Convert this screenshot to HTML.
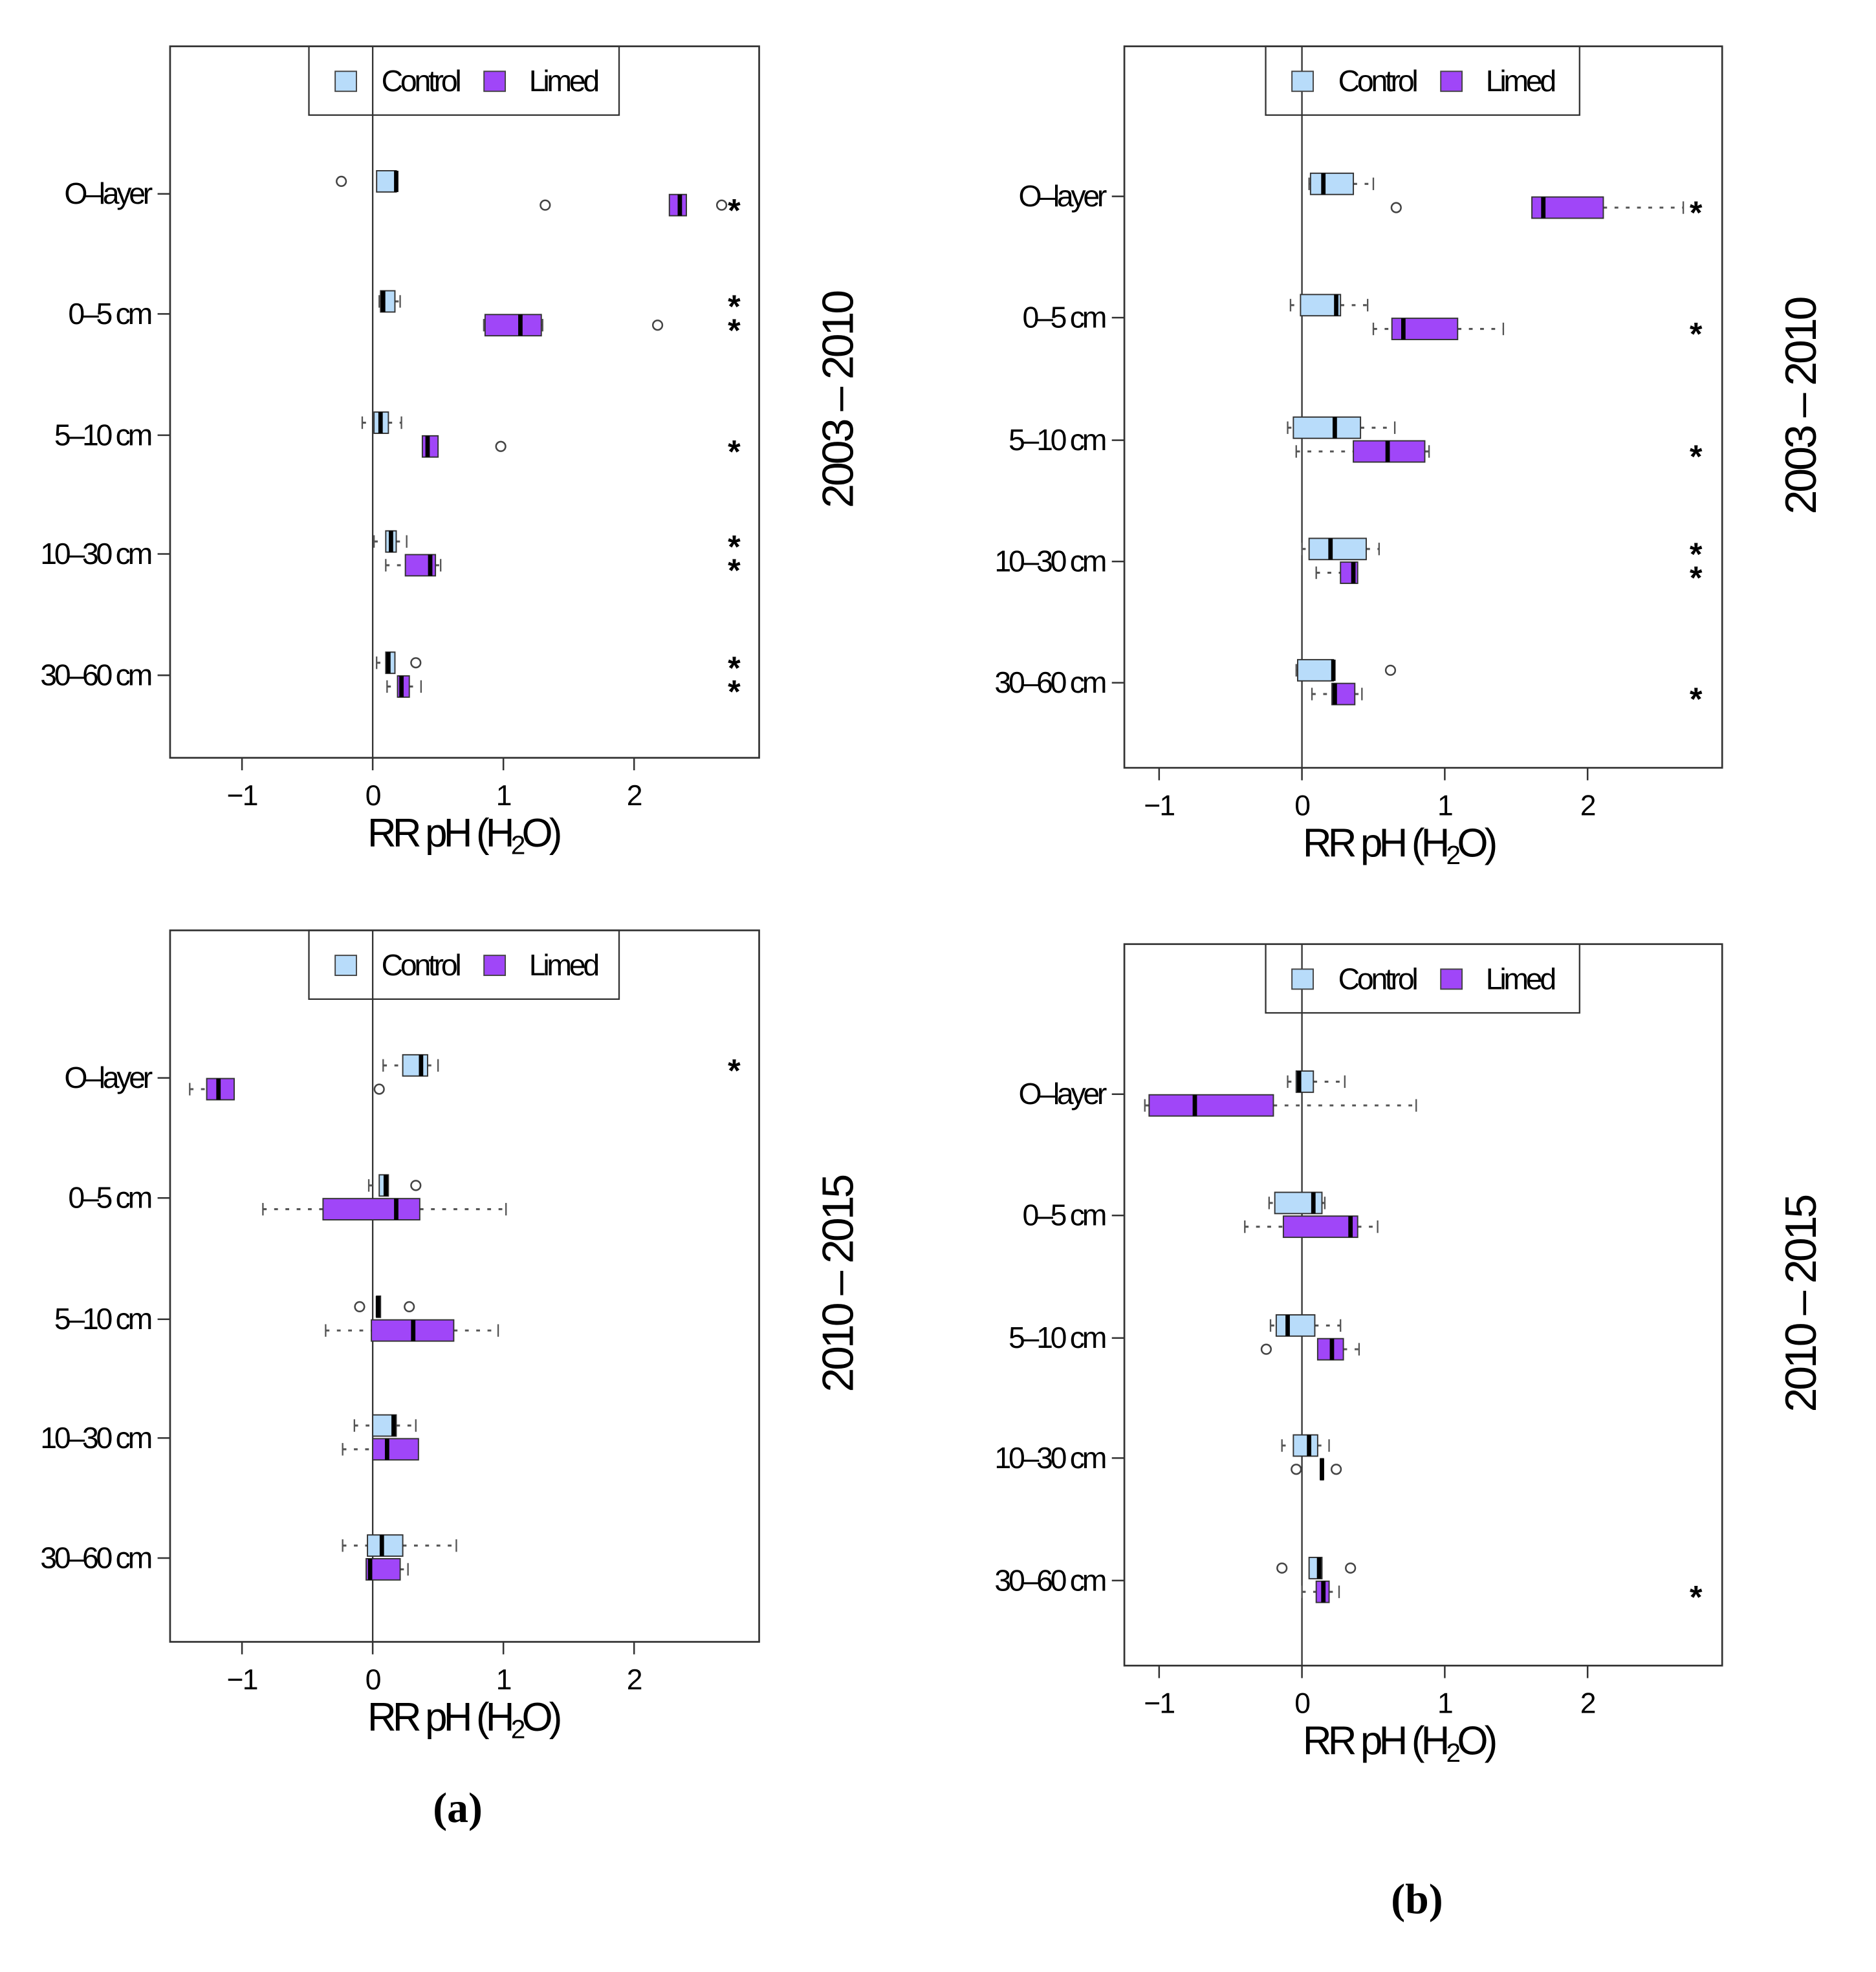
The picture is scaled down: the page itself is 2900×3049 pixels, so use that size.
<!DOCTYPE html>
<html><head><meta charset="utf-8"><style>
html,body{margin:0;padding:0;background:#fff}
svg{display:block}
text{fill:#000}
</style></head><body>
<svg id="fig" width="2900" height="3049" viewBox="0 0 1500 1577" xmlns="http://www.w3.org/2000/svg" style="font-family:'Liberation Sans',sans-serif">
<text x="366" y="1457" style="font-family:'Liberation Serif',serif;font-weight:bold" font-size="34" text-anchor="middle">(a)</text>
<text x="1133" y="1530" style="font-family:'Liberation Serif',serif;font-weight:bold" font-size="34" text-anchor="middle">(b)</text>
</svg>
<script>
const categories = ["O\u2013layer","0\u20135 cm","5\u201310 cm","10\u201330 cm","30\u201360 cm"];
const xTicks = [-1, 0, 1, 2];
// each box: [whiskerLow, q1, median, q3, whiskerHigh]
const aTopControl = [[0.03,0.03,0.18,0.18,0.18],[0.05,0.06,0.08,0.17,0.21],[-0.08,0.01,0.06,0.12,0.22],[0.01,0.10,0.14,0.18,0.26],[0.03,0.10,0.12,0.17,0.17]];
const aTopLimed = [[2.27,2.27,2.35,2.40,2.40],[0.85,0.86,1.13,1.29,1.30],[0.38,0.38,0.42,0.50,0.50],[0.10,0.25,0.44,0.48,0.52],[0.11,0.19,0.22,0.28,0.37]];
const aTopControlOut = [[-0.24],[],[],[],[0.33]];
const aTopLimedOut = [[1.32,2.67],[2.18],[0.98],[],[]];
const aTopStarsControl = [0,1,0,1,1];
const aTopStarsLimed = [1,1,1,1,1];

const aBotControl = [[0.08,0.23,0.37,0.42,0.50],[-0.03,0.05,0.10,0.12,0.12],[0.03,0.03,0.04,0.06,0.06],[-0.14,0.00,0.16,0.18,0.33],[-0.23,-0.04,0.07,0.23,0.64]];
const aBotLimed = [[-1.40,-1.27,-1.18,-1.06,-1.06],[-0.84,-0.38,0.18,0.36,1.02],[-0.36,-0.01,0.31,0.62,0.96],[-0.23,0.00,0.11,0.35,0.35],[-0.05,-0.05,-0.02,0.21,0.27]];
const aBotControlOut = [[],[0.33],[-0.10,0.28],[],[]];
const aBotLimedOut = [[0.05],[],[],[],[]];
const aBotStarsControl = [1,0,0,0,0];
const aBotStarsLimed = [0,0,0,0,0];

const bTopControl = [[0.05,0.06,0.15,0.36,0.50],[-0.08,-0.01,0.24,0.27,0.46],[-0.10,-0.06,0.23,0.41,0.65],[0.00,0.05,0.20,0.45,0.54],[-0.04,-0.03,0.22,0.22,0.22]];
const bTopLimed = [[1.61,1.61,1.69,2.11,2.67],[0.50,0.63,0.71,1.09,1.41],[-0.04,0.36,0.60,0.86,0.89],[0.10,0.27,0.36,0.39,0.39],[0.07,0.21,0.23,0.37,0.42]];
const bTopControlOut = [[],[],[],[],[0.62]];
const bTopLimedOut = [[0.66],[],[],[],[]];
const bTopStarsControl = [0,0,0,1,0];
const bTopStarsLimed = [1,1,1,1,1];

const bBotControl = [[-0.10,-0.04,-0.02,0.08,0.30],[-0.23,-0.19,0.08,0.14,0.16],[-0.22,-0.18,-0.10,0.09,0.27],[-0.14,-0.06,0.05,0.11,0.19],[0.05,0.05,0.12,0.14,0.14]];
const bBotLimed = [[-1.10,-1.07,-0.75,-0.20,0.80],[-0.40,-0.13,0.34,0.39,0.53],[0.11,0.11,0.21,0.29,0.40],[0.13,0.13,0.14,0.15,0.15],[0.00,0.10,0.15,0.19,0.26]];
const bBotControlOut = [[],[],[],[],[-0.14,0.34]];
const bBotLimedOut = [[],[],[-0.25],[-0.04,0.24],[]];
const bBotStarsControl = [0,0,0,0,0];
const bBotStarsLimed = [0,0,0,0,1];

const panelTitles = ["2003 \u2013 2010","2010 \u2013 2015"];

const NS="http://www.w3.org/2000/svg";
const svg=document.getElementById('fig');
function mk(tag,attrs,parent){const e=document.createElementNS(NS,tag);for(const k in attrs)e.setAttribute(k,attrs[k]);(parent||svg).appendChild(e);return e;}

const panels=[
 {id:'a-top',L:136,R:607,T:37,B:606,x0:298,ux:104.5,cy:[155,251,348,443,540],leg:[247,495],title:0,tx:670,ty:320,starX:587,c:aTopControl,l:aTopLimed,co:aTopControlOut,lo:aTopLimedOut,sc:aTopStarsControl,sl:aTopStarsLimed},
 {id:'a-bottom',L:136,R:607,T:744,B:1313,x0:298,ux:104.5,cy:[862,958,1055,1150,1246],leg:[247,495],title:1,tx:670,ty:1027,starX:587,c:aBotControl,l:aBotLimed,co:aBotControlOut,lo:aBotLimedOut,sc:aBotStarsControl,sl:aBotStarsLimed},
 {id:'b-top',L:899,R:1377,T:37,B:614,x0:1041,ux:114.2,cy:[157,254,352,449,546],leg:[1012,1263],title:0,tx:1440,ty:325,starX:1356,c:bTopControl,l:bTopLimed,co:bTopControlOut,lo:bTopLimedOut,sc:bTopStarsControl,sl:bTopStarsLimed},
 {id:'b-bottom',L:899,R:1377,T:755,B:1332,x0:1041,ux:114.2,cy:[875,972,1070,1166,1264],leg:[1012,1263],title:1,tx:1440,ty:1043,starX:1356,c:bBotControl,l:bBotLimed,co:bBotControlOut,lo:bBotLimedOut,sc:bBotStarsControl,sl:bBotStarsLimed}
];

panels.forEach(p=>{
 const g=mk('g',{});
 
 
 const X=v=>p.x0+v*p.ux;
 const frame=mk('rect',{x:p.L,y:p.T,width:p.R-p.L,height:p.B-p.T,fill:'none',stroke:'#333','stroke-width':1.4},g);
 
 
 const zl=mk('line',{x1:X(0),x2:X(0),y1:p.T,y2:p.B,stroke:'#333','stroke-width':1.2},g);
 
 
 xTicks.forEach(t=>{
  mk('line',{x1:X(t),x2:X(t),y1:p.B,y2:p.B+10,stroke:'#333','stroke-width':1.3},g);
  const tl=mk('text',{x:X(t),y:p.B+38,'font-size':23,'text-anchor':'middle','letter-spacing':-1},g);
  tl.textContent=t<0?'\u2212'+Math.abs(t):String(t);
  
  
 });
 const xt=mk('text',{x:(X(-1)+X(2))/2+20,y:p.B+71,'font-size':32,'text-anchor':'middle','letter-spacing':-3},g);
 xt.innerHTML='RR pH (H<tspan font-size="21" dy="6">2</tspan><tspan dy="-6">O)</tspan>';
 
 
 categories.forEach((c,i)=>{
  mk('line',{x1:p.L-10,x2:p.L,y1:p.cy[i],y2:p.cy[i],stroke:'#333','stroke-width':1.3},g);
  const yl=mk('text',{x:p.L-16,y:p.cy[i]+8,'font-size':24,'text-anchor':'end','letter-spacing':-2.2},g);
  yl.textContent=c;
  
  
 });
 const tt=mk('text',{x:0,y:0,'font-size':35,'text-anchor':'middle','letter-spacing':-2,transform:`translate(${p.tx+12},${p.ty}) rotate(-90)`},g);
 tt.textContent=panelTitles[p.title];
 
 
 const lg=mk('g',{},g);
 
 
 mk('rect',{x:p.leg[0],y:p.T,width:p.leg[1]-p.leg[0],height:55,fill:'none',stroke:'#333','stroke-width':1.2},lg);
 const lx=p.leg[0];
 const ly=p.T+28;
 mk('rect',{x:lx+21,y:ly-8,width:17,height:16,fill:'#b8dcfa',stroke:'#444','stroke-width':1},lg);
 const t1=mk('text',{x:lx+58,y:ly+8,'font-size':24,'letter-spacing':-2.2},lg);t1.textContent='Control';
 
 
 mk('rect',{x:lx+140,y:ly-8,width:17,height:16,fill:'#a046f8',stroke:'#444','stroke-width':1},lg);
 const t2=mk('text',{x:lx+176,y:ly+8,'font-size':24,'letter-spacing':-2.2},lg);t2.textContent='Limed';
 
 
 const draw=(arr,outs,stars,off,fill,name)=>{
  arr.forEach((b,i)=>{
   const y=p.cy[i]+off;
   const bg=mk('g',{},g);
   
   
   const h=8.5;
   if(b[0]<b[1]){
    mk('line',{x1:X(b[0]),x2:X(b[1]),y1:y,y2:y,stroke:'#555','stroke-width':1.6,'stroke-dasharray':'3 6'},bg);
    mk('line',{x1:X(b[0]),x2:X(b[0]),y1:y-5,y2:y+5,stroke:'#555','stroke-width':1.2},bg);
   }
   if(b[4]>b[3]){
    mk('line',{x1:X(b[3]),x2:X(b[4]),y1:y,y2:y,stroke:'#555','stroke-width':1.6,'stroke-dasharray':'3 6'},bg);
    mk('line',{x1:X(b[4]),x2:X(b[4]),y1:y-5,y2:y+5,stroke:'#555','stroke-width':1.2},bg);
   }
   mk('rect',{x:X(b[1]),y:y-h,width:Math.max(1,X(b[3])-X(b[1])),height:2*h,fill:fill,stroke:'#333','stroke-width':1},bg);
   mk('line',{x1:X(b[2]),x2:X(b[2]),y1:y-h,y2:y+h,stroke:'#000','stroke-width':3.5},bg);
   outs[i].forEach(o=>{
    const c=mk('circle',{cx:X(o),cy:y,r:3.8,fill:'none',stroke:'#444','stroke-width':1.3},g);
    
    
   });
   if(stars[i]){
    const s=mk('text',{x:p.starX,y:y+13,'font-size':26,'font-weight':'bold','text-anchor':'middle'},g);
    s.textContent='*';
    
    
   }
  });
 };
 draw(p.c,p.co,p.sc,-10,'#b8dcfa','control');
 draw(p.l,p.lo,p.sl,9,'#a046f8','limed');
});
</script>
</body></html>
